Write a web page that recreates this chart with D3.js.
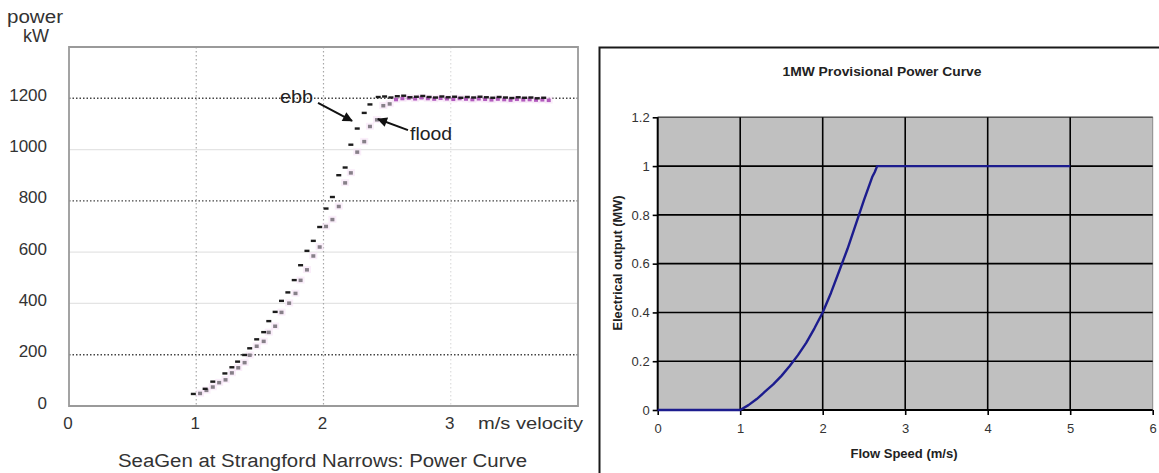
<!DOCTYPE html>
<html>
<head>
<meta charset="utf-8">
<script src="https://cdn.jsdelivr.net/npm/d3@7"></script>
<style>
  html, body { margin: 0; padding: 0; background: #fff; }
  svg { display: block; }
  text { font-family: "Liberation Sans", Arial, sans-serif; }
</style>
</head>
<body>
<svg id="chart" width="1159" height="473"></svg>
<script>
// ---- SeaGen measured power curve (left panel) ----
const ebbSpeed = [0.977, 1.07, 1.13, 1.225, 1.28, 1.325, 1.38, 1.42, 1.475, 1.53, 1.57, 1.62, 1.67, 1.72, 1.77, 1.82, 1.87, 1.92, 1.97, 2.02, 2.07, 2.12, 2.17, 2.215, 2.265, 2.32, 2.365, 2.43,
  2.48, 2.53, 2.58, 2.63, 2.68, 2.73, 2.78, 2.83, 2.88, 2.93, 2.98, 3.03, 3.08, 3.13, 3.18, 3.23, 3.28, 3.33, 3.38, 3.43, 3.48, 3.53, 3.58, 3.63, 3.68, 3.73];
const ebbPower = [47, 67, 95, 127, 151, 173, 199, 225, 260, 288, 331, 367, 410, 443, 491, 549, 605, 644, 698, 770, 815, 900, 930, 1019, 1082, 1143, 1176, 1205,
  1207, 1203, 1208, 1210, 1204, 1206, 1209, 1205, 1203, 1207, 1204, 1206, 1202, 1205, 1203, 1206, 1204, 1202, 1205, 1203, 1201, 1204, 1202, 1203, 1200, 1202];
const floodSpeed = [1.03, 1.08, 1.13, 1.18, 1.23, 1.28, 1.33, 1.38, 1.42, 1.475, 1.53, 1.57, 1.62, 1.67, 1.73, 1.78, 1.82, 1.87, 1.92, 1.97, 2.02, 2.07, 2.12, 2.17, 2.215, 2.265, 2.32, 2.365, 2.42, 2.47, 2.52,
  2.57, 2.62, 2.67, 2.72, 2.77, 2.82, 2.87, 2.92, 2.97, 3.02, 3.07, 3.12, 3.17, 3.22, 3.27, 3.32, 3.37, 3.42, 3.47, 3.52, 3.57, 3.62, 3.67, 3.72, 3.77];
const floodPower = [50, 62, 75, 92, 103, 130, 150, 170, 199, 234, 253, 288, 312, 366, 402, 440, 491, 532, 586, 621, 701, 728, 779, 871, 910, 991, 1032, 1091, 1117, 1172, 1179,
  1196, 1200, 1202, 1199, 1203, 1200, 1198, 1201, 1199, 1197, 1200, 1198, 1196, 1199, 1197, 1195, 1198, 1196, 1194, 1197, 1195, 1196, 1194, 1195, 1193];
const leftXTicks = [0, 1, 2, 3];
const leftYTicks = [0, 200, 400, 600, 800, 1000, 1200];
const leftDottedRows = [200, 800, 1200];

// ---- 1MW provisional power curve (right panel) ----
const curveSpeed = [0, 1.0, 1.1, 1.2, 1.3, 1.4, 1.5, 1.6, 1.7, 1.8, 1.9, 2.0, 2.1, 2.2, 2.3, 2.4, 2.5, 2.6, 2.63, 2.66, 5.0];
const curveOutput = [0, 0, 0.02, 0.045, 0.075, 0.105, 0.14, 0.18, 0.225, 0.275, 0.335, 0.40, 0.48, 0.57, 0.66, 0.76, 0.86, 0.955, 0.975, 1.0, 1.0];
const rightXTicks = [0, 1, 2, 3, 4, 5, 6];
const rightYTicks = [0, 0.2, 0.4, 0.6, 0.8, 1, 1.2];

const svg = d3.select("#chart");

// ================= Left panel =================
const L = svg.append("g");
const lx = d3.scaleLinear().domain([0, 4]).range([69, 578]);
const ly = d3.scaleLinear().domain([0, 1400]).range([406, 47]);

// horizontal gridlines: some dotted dark, others faint solid
L.append("g").selectAll("line").data(leftYTicks.filter(d => d > 0)).join("line")
  .attr("x1", lx(0)).attr("x2", lx(4))
  .attr("y1", d => ly(d)).attr("y2", d => ly(d))
  .attr("stroke", d => leftDottedRows.includes(d) ? "#444" : "#e4e4e4")
  .attr("stroke-width", d => leftDottedRows.includes(d) ? 1.4 : 1.2)
  .attr("stroke-dasharray", d => leftDottedRows.includes(d) ? "1.5,2" : null);

// vertical gridlines
L.append("g").selectAll("line").data(leftXTicks.filter(d => d > 0)).join("line")
  .attr("x1", d => lx(d)).attr("x2", d => lx(d))
  .attr("y1", ly(1400)).attr("y2", ly(0))
  .attr("stroke", d => d === 3 ? "#dcdcdc" : "#a8a8a8")
  .attr("stroke-width", 1.2)
  .attr("stroke-dasharray", "1.5,2.5");

// frame
L.append("path")
  .attr("d", `M${lx(0)},${ly(0)}V${ly(1400)}H${lx(4)}V${ly(0)}Z`)
  .attr("fill", "none").attr("stroke", "#9a9a9a").attr("stroke-width", 1.8);

const floodData = floodSpeed.map((s, i) => ({ s, p: floodPower[i] }));
const ebbData = ebbSpeed.map((s, i) => ({ s, p: ebbPower[i] }));

// flood points (pale halo + mark)
L.append("g").selectAll("rect").data(floodData).join("rect")
  .attr("x", d => lx(d.s) - 4).attr("y", d => ly(d.p) - 3.5)
  .attr("width", 8).attr("height", 7)
  .attr("fill", "#f6e2f6").attr("opacity", 0.6);
L.append("g").selectAll("rect").data(floodData).join("rect")
  .attr("x", d => lx(d.s) - 2).attr("y", d => ly(d.p) - 1.5)
  .attr("width", 4).attr("height", 3.5)
  .attr("fill", d => d.p > 1185 ? "#b25bbd" : "#878089");

// ebb points
L.append("g").selectAll("rect").data(ebbData).join("rect")
  .attr("x", d => lx(d.s) - 2.5).attr("y", d => ly(d.p) - 1.2)
  .attr("width", 5).attr("height", 2.4)
  .attr("fill", "#1c1c1c");

// tick labels
L.append("g").selectAll("text").data(leftYTicks).join("text")
  .attr("x", 47).attr("y", d => ly(d) - 3)
  .attr("text-anchor", "end").attr("dominant-baseline", "central")
  .attr("font-size", 17).attr("fill", "#333")
  .text(d => d);
L.append("g").selectAll("text").data(leftXTicks).join("text")
  .attr("x", d => lx(d) - 1).attr("y", 423)
  .attr("text-anchor", "middle").attr("dominant-baseline", "central")
  .attr("font-size", 17).attr("fill", "#333")
  .text(d => d);

// axis names
L.append("text").attr("x", 35).attr("y", 17).attr("text-anchor", "middle")
  .attr("dominant-baseline", "central").attr("font-size", 18).attr("fill", "#333")
  .attr("textLength", 56).attr("lengthAdjust", "spacingAndGlyphs").text("power");
L.append("text").attr("x", 36).attr("y", 36).attr("text-anchor", "middle")
  .attr("dominant-baseline", "central").attr("font-size", 18).attr("fill", "#333").text("kW");
L.append("text").attr("x", 478).attr("y", 423)
  .attr("dominant-baseline", "central").attr("font-size", 17).attr("fill", "#333")
  .attr("textLength", 105).attr("lengthAdjust", "spacingAndGlyphs").text("m/s velocity");
L.append("text").attr("x", 118).attr("y", 461)
  .attr("dominant-baseline", "central").attr("font-size", 18).attr("fill", "#333")
  .attr("textLength", 409).attr("lengthAdjust", "spacingAndGlyphs")
  .text("SeaGen at Strangford Narrows: Power Curve");

// annotations with arrows
const defs = svg.append("defs");
defs.append("marker").attr("id", "arrow").attr("viewBox", "0 0 10 10")
  .attr("refX", 9).attr("refY", 5).attr("markerWidth", 6).attr("markerHeight", 5)
  .attr("orient", "auto").attr("markerUnits", "strokeWidth")
  .append("path").attr("d", "M0,0L10,5L0,10Z").attr("fill", "#111");

L.append("text").attr("x", lx(1.658)).attr("y", ly(1206))
  .attr("dominant-baseline", "central").attr("font-size", 19).attr("fill", "#222")
  .attr("textLength", 33).attr("lengthAdjust", "spacingAndGlyphs").text("ebb");
L.append("line")
  .attr("x1", lx(1.957)).attr("y1", ly(1182)).attr("x2", lx(2.224)).attr("y2", ly(1112))
  .attr("stroke", "#111").attr("stroke-width", 2).attr("marker-end", "url(#arrow)");
L.append("text").attr("x", lx(2.68)).attr("y", ly(1064))
  .attr("dominant-baseline", "central").attr("font-size", 19).attr("fill", "#222")
  .attr("textLength", 42).attr("lengthAdjust", "spacingAndGlyphs").text("flood");
L.append("line")
  .attr("x1", lx(2.664)).attr("y1", ly(1076)).attr("x2", lx(2.428)).attr("y2", ly(1119))
  .attr("stroke", "#111").attr("stroke-width", 2).attr("marker-end", "url(#arrow)");

// ================= Right panel =================
const R = svg.append("g");
const rx = d3.scaleLinear().domain([0, 6]).range([657.7, 1152.7]);
const ry = d3.scaleLinear().domain([0, 1.2]).range([410, 117.3]);

// outer frame of panel
R.append("path").attr("d", "M599.5,473V47.5H1159")
  .attr("fill", "none").attr("stroke", "#1a1a1a").attr("stroke-width", 2);

// plot background
R.append("rect").attr("x", rx(0)).attr("y", ry(1.2))
  .attr("width", rx(6) - rx(0)).attr("height", ry(0) - ry(1.2))
  .attr("fill", "#c0c0c0").attr("stroke", "#8a8a8a").attr("stroke-width", 1);

// gridlines
R.append("g").selectAll("line").data(rightYTicks.filter(d => d > 0)).join("line")
  .attr("x1", rx(0)).attr("x2", rx(6))
  .attr("y1", d => ry(d)).attr("y2", d => ry(d))
  .attr("stroke", d => d === 1.2 ? "#555" : "#000").attr("stroke-width", 1.6);
R.append("g").selectAll("line").data(rightXTicks.filter(d => d > 0 && d < 6)).join("line")
  .attr("x1", d => rx(d)).attr("x2", d => rx(d))
  .attr("y1", ry(1.2)).attr("y2", ry(0))
  .attr("stroke", "#000").attr("stroke-width", 1.6);

// axes
const yAxis = d3.axisLeft(ry).tickValues(rightYTicks).tickSize(5).tickFormat(d3.format("~g"));
const xAxis = d3.axisBottom(rx).tickValues(rightXTicks).tickSize(5).tickFormat(d3.format("d"));
const gy = R.append("g").attr("transform", `translate(${rx(0)},0)`).call(yAxis);
const gx = R.append("g").attr("transform", `translate(0,${ry(0)})`).call(xAxis);
[gy, gx].forEach(g => {
  g.select(".domain").attr("stroke", "#000").attr("stroke-width", 2);
  g.selectAll(".tick line").attr("stroke", "#000").attr("stroke-width", 1.6);
  g.selectAll(".tick text").attr("font-family", "'Liberation Sans', Arial, sans-serif")
    .attr("font-size", 13).attr("fill", "#333");
});
gy.select(".domain").attr("d", `M0,${ry(1.2)}V${ry(0)}`);
gx.select(".domain").attr("d", `M${rx(0)},0H${rx(6)}`);
gy.selectAll(".tick text").attr("x", -8);
gx.selectAll(".tick text").attr("y", 14);

// power curve
const line = d3.line().x(d => rx(d[0])).y(d => ry(d[1]));
R.append("path").datum(curveSpeed.map((s, i) => [s, curveOutput[i]]))
  .attr("d", line).attr("fill", "none")
  .attr("stroke", "#1c1c8e").attr("stroke-width", 2.4).attr("stroke-linejoin", "round");

// titles
R.append("text").attr("x", 882).attr("y", 71)
  .attr("text-anchor", "middle").attr("dominant-baseline", "central")
  .attr("font-size", 13).attr("font-weight", "bold").attr("fill", "#222")
  .attr("textLength", 199).attr("lengthAdjust", "spacingAndGlyphs")
  .text("1MW Provisional Power Curve");
R.append("text").attr("x", 904).attr("y", 454)
  .attr("text-anchor", "middle").attr("dominant-baseline", "central")
  .attr("font-size", 12).attr("font-weight", "bold").attr("fill", "#222")
  .attr("textLength", 107).attr("lengthAdjust", "spacingAndGlyphs")
  .text("Flow Speed (m/s)");
R.append("text").attr("transform", "translate(618,263) rotate(-90)")
  .attr("text-anchor", "middle").attr("dominant-baseline", "central")
  .attr("font-size", 12).attr("font-weight", "bold").attr("fill", "#222")
  .attr("textLength", 135).attr("lengthAdjust", "spacingAndGlyphs")
  .text("Electrical output (MW)");
</script>
</body>
</html>
